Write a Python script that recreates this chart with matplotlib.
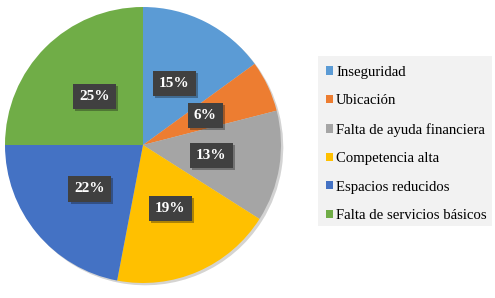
import matplotlib
matplotlib.use('Agg')
import matplotlib.pyplot as plt
import matplotlib.patheffects as pe
from matplotlib.patches import Patch

labels = ['Inseguridad', 'Ubicación', 'Falta de ayuda financiera',
          'Competencia alta', 'Espacios reducidos', 'Falta de servicios básicos']
values = [15, 6, 13, 19, 22, 25]
colors = ['#5B9BD5', '#ED7D31', '#A5A5A5', '#FFC000', '#4472C4', '#70AD47']

plt.rcParams['font.family'] = ['Liberation Serif', 'DejaVu Serif']

fig = plt.figure(figsize=(4.95, 2.98), dpi=100, facecolor='w')
ax = fig.add_axes([5 / 495, 15 / 298, 276 / 495, 276 / 298])

wedges, texts, autotexts = ax.pie(
    values, colors=colors, startangle=90, counterclock=False,
    autopct='%d%%', pctdistance=0.5,
    wedgeprops=dict(linewidth=0),
    shadow=dict(shade=0.9, ox=0.012, oy=-0.012, alpha=0.18))

for t in autotexts:
    t.set_color('white')
    t.set_fontsize(11)
    t.set_fontweight('bold')
    t.set_bbox(dict(boxstyle='square,pad=0.4', facecolor='#404040',
                    edgecolor='none'))
    t.get_bbox_patch().set_path_effects(
        [pe.SimplePatchShadow(offset=(1.5, -1.5), alpha=0.35), pe.Normal()])
ax.set_xlim(-1.0, 1.0)
ax.set_ylim(-1.0, 1.0)
ax.set_aspect('equal')

# legend background
bg = plt.Rectangle((318 / 495, 1 - 226 / 298), 174 / 495, 170 / 298,
                   transform=fig.transFigure, facecolor='#F2F2F2',
                   edgecolor='none', zorder=0)
fig.patches.append(bg)

handles = [Patch(facecolor=c, edgecolor='none') for c in colors]
fig.legend(handles, labels, loc='upper left',
           bbox_to_anchor=(320 / 495, 1 - 60 / 298),
           frameon=False, fontsize=10.6, handlelength=0.5, handleheight=0.5,
           handletextpad=0.2, labelspacing=1.05, borderaxespad=0)

fig.savefig('out.png', dpi=100)
